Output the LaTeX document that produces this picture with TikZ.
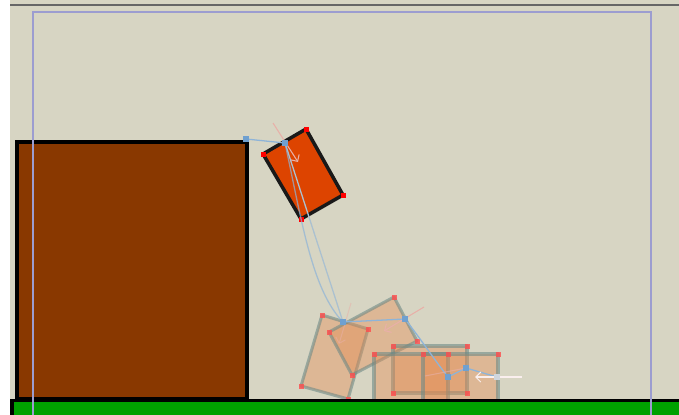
\documentclass[tikz,border=0pt]{standalone}
\usepackage{tikz}
\usetikzlibrary{arrows.meta}

\definecolor{sandbg}{HTML}{D7D5C3}
\definecolor{crate}{HTML}{893800}
\definecolor{plank}{HTML}{DD4400}
\definecolor{turf}{HTML}{00A000}
\definecolor{framelila}{HTML}{9C9DD0}
\definecolor{ghostfill}{HTML}{E68A50}
\definecolor{ghostline}{HTML}{6F8A86}
\definecolor{pathblue}{HTML}{8EB4D8}
\definecolor{pinblue}{HTML}{6FA0D0}
\definecolor{velpink}{HTML}{E8B0A8}

\begin{document}
\begin{tikzpicture}[
            x=0.3mm, y=-0.3mm,
            >={Straight Barb[scale=1.3]},
            wall/.style={fill=crate, draw=black, line width=3pt},
            ghost/.style={fill=ghostfill, fill opacity=0.4, draw=ghostline, draw opacity=0.6, line width=2.6pt, line join=round},
            track/.style={draw=pathblue, line width=1.1pt},
            faint/.style={draw=pathblue!60!sandbg, line width=1.1pt},
            vel/.style={draw=velpink, line width=0.9pt, ->}
        ]

            % Canvas
            \useasboundingbox (0,0) rectangle (679,414);
            \clip (0,0) rectangle (679,414);
            \fill[white] (0,0) rectangle (679,414);
            \fill[sandbg] (10,0) rectangle (679,414);
            \draw[gray!80!black, line width=1.5pt] (10,5) -- (679,5);

            % Static crate
            \draw[wall] (17,142) rectangle (247,399);

            % Ghost copies along the fall (A, B tumbling; C, D, E lying)
            \filldraw[ghost] (322,315) -- (368,329) -- (348,399) -- (301,386) -- cycle;
            \filldraw[ghost] (329,332) -- (394,297) -- (417,341) -- (352,375) -- cycle;
            \filldraw[ghost] (393,346) rectangle (467,393);
            \filldraw[ghost] (374,354) rectangle (448,402);
            \filldraw[ghost] (423,354) rectangle (498,402);
            \foreach \p in {(322,315),(368,329),(348,399),(301,386),
                            (329,332),(394,297),(417,341),(352,375),
                            (393,346),(467,346),(467,393),(393,393),
                            (374,354),(448,354),(423,354),(498,354)}
                \fill[red!70!white, opacity=0.8] \p ++(-2.5,-2.5) rectangle ++(5,5);

            % Ground
            \draw[fill=turf, draw=black, line width=3pt] (12,440) -- (12,400.5) -- (700,400.5) -- (700,440);

            % Falling plank
            \filldraw[fill=plank, draw=black!90, line width=3pt, line join=round]
                (263,154) -- (306,129) -- (343,195) -- (301,219) -- cycle;
            \foreach \p in {(263,154),(306,129),(343,195),(301,219)}
                \fill[red] \p ++(-2.5,-2.5) rectangle ++(5,5);

            % Anchor points
            \coordinate (pin) at (246,139);
            \coordinate (a0) at (285,143);
            \coordinate (a1) at (343,322);
            \coordinate (a2) at (405,319);
            \coordinate (a3) at (448,377);
            \coordinate (a4) at (466,368);
            \coordinate (a5) at (497,377);
            \coordinate (tail) at (522,377);

            % Path of the anchor
            \draw[track] (pin) -- (a0);
            \draw[faint] (a0) -- (a1);
            \draw[track, draw opacity=0.7] (a0) .. controls (302,222) and (312,290) .. (a1);
            \draw[track] (a1) -- (a2);
            \draw[track] (a2) .. controls (420,338) and (436,362) .. (a3);
            \draw[track] (a3) -- (a4) -- (a5);
            \draw[faint] (a5) -- (tail);

            % Velocities
            \draw[vel] (273,123) -- (298,162);
            \draw[vel, draw opacity=0.5] (351,303) -- (339,344);
            \draw[vel] (424,307) -- (384,331);
            \draw[velpink, opacity=0.6, line width=0.9pt] (425,376) -- (a4);
            \draw[vel, draw=white!80!velpink] (tail) -- (475,377);

            % Pins
            \foreach \q in {pin,a0,a1,a2,a3,a4}
                \fill[pinblue] (\q) ++(-3,-3) rectangle ++(6,6);
            \fill[pathblue!50!gray!40!white] (a5) ++(-3,-3) rectangle ++(6,6);

            % Scene frame
            \draw[framelila, line width=2pt] (33,420) -- (33,12) -- (651,12) -- (651,420);

        \end{tikzpicture}
\end{document}
